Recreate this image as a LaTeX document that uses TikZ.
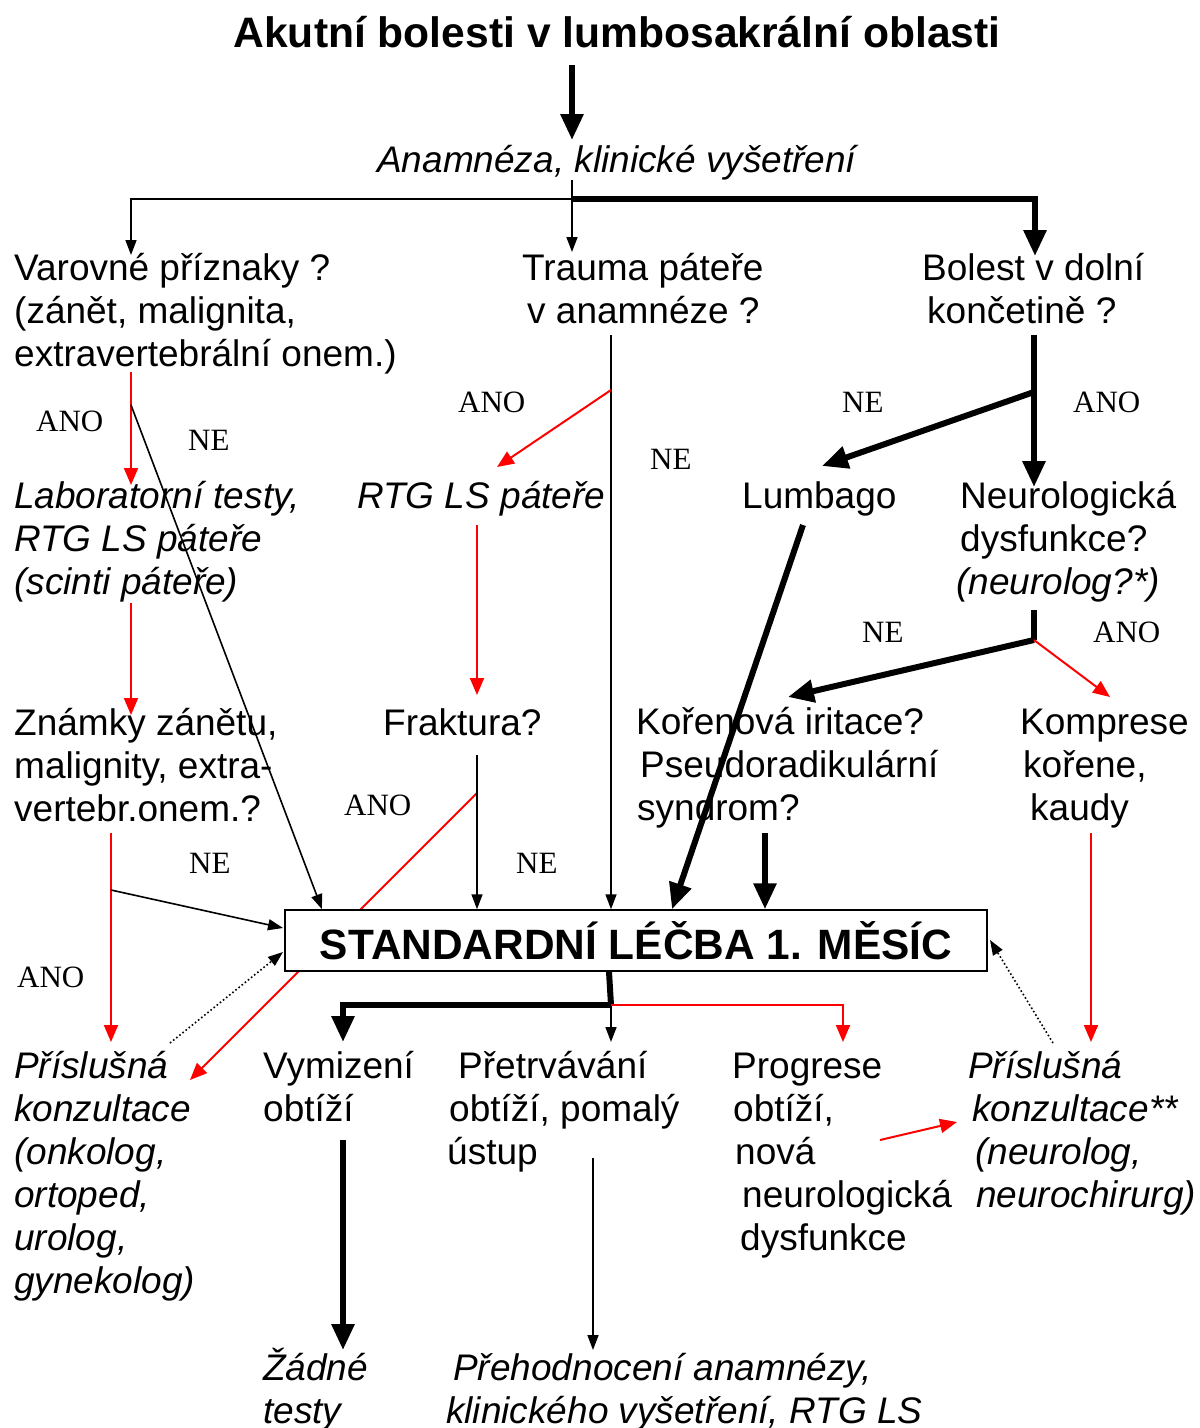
\documentclass[tikz,border=0pt]{standalone}
\usepackage{fontspec}
\setmainfont{Liberation Sans}
\newfontfamily\tmsfont{Liberation Serif}
\usetikzlibrary{arrows.meta}
\tikzset{
	txt/.style={anchor=base west,inner sep=0pt,align=left,font=\fontsize{37}{43}\selectfont},
	txti/.style={txt,font=\itshape\fontsize{37}{43}\selectfont},
	yn/.style={anchor=base west,inner sep=0pt,font=\tmsfont\fontsize{31}{31}\selectfont},
	blk/.style={line width=1.6pt,-{Triangle[length=15pt,width=11pt]}},
	fat/.style={line width=6pt,-{Triangle[length=26pt,width=22pt]}},
	rd/.style={draw=red,line width=2pt,-{Triangle[length=17pt,width=14pt]}},
	dotarr/.style={dash pattern=on 1.6pt off 2.4pt,line width=1.6pt,-{Triangle[length=15pt,width=11pt]}}
}
\begin{document}
\begin{tikzpicture}[x=1pt,y=-1pt]
	\useasboundingbox (0,0) rectangle (1200,1428);
	\node[anchor=base,inner sep=0pt,font=\bfseries\fontsize{42.6}{48}\selectfont] (title) at (617,47) {Akutní bolesti v lumbosakrální oblasti};
	\node[txti] (anam) at (377,172) {Anamnéza, klinické vyšetření};
	\node[txt] (var) at (14,366) {Varovné příznaky ?\\(zánět, malignita,\\extravertebrální onem.)};
	\node[txt] (trauma) at (522,323) {Trauma páteře\\\hspace*{5pt}v anamnéze ?};
	\node[txt] (bolest) at (922,323) {Bolest v dolní\\\hspace*{5pt}končetině ?};
	\node[txti] (lab) at (14,594) {Laboratorní testy,\\RTG LS páteře\\(scinti páteře)};
	\node[txti] (rtg) at (357,508) {RTG LS páteře};
	\node[txt] (lumb) at (742,508) {Lumbago};
	\node[txt] (neuro) at (960,594) {Neurologická\\dysfunkce?\\\hspace*{-4pt}\textit{(neurolog?*)}};
	\node[txt] (znamky) at (14,821) {Známky zánětu,\\malignity, extra-\\vertebr.onem.?};
	\node[txt] (frakt) at (383,735) {Fraktura?};
	\node[txt] (koren) at (636,820) {Kořenová iritace?\\\hspace*{4pt}Pseudoradikulární\\\hspace*{1pt}syndrom?};
	\node[txt] (kompr) at (1020,820) {Komprese\\\hspace*{3pt}kořene,\\\hspace*{10pt}kaudy};
	\node[txti] (konz) at (14,1293) {Příslušná\\konzultace\\(onkolog,\\ortoped,\\urolog,\\gynekolog)};
	\node[txt] (vym) at (263,1121) {Vymizení\\obtíží};
	\node[txt] (pretr) at (447,1164) {\hspace*{11pt}Přetrvávání\\\hspace*{2pt}obtíží, pomalý\\ústup};
	\node[txt] (progr) at (732,1250) {Progrese\\\hspace*{1pt}obtíží,\\\hspace*{3pt}nová\\\hspace*{10pt}neurologická\\\hspace*{8pt}dysfunkce};
	\node[txti] (konz2) at (968,1207) {Příslušná\\\hspace*{4pt}konzultace**\\\hspace*{7pt}(neurolog,\\\hspace*{8pt}neurochirurg)};
	\node[txti] (zadne) at (263,1423) {Žádné\\testy};
	\node[txti] (preh) at (446,1423) {\hspace*{7pt}Přehodnocení anamnézy,\\klinického vyšetření, RTG LS};
	\node[yn] (ano1) at (36,431) {ANO};
	\node[yn] (ne1) at (188,450) {NE};
	\node[yn] (ano2) at (458,412) {ANO};
	\node[yn] (ne2) at (650,469) {NE};
	\node[yn] (ne3) at (842,412) {NE};
	\node[yn] (ano3) at (1073,412) {ANO};
	\node[yn] (ne4) at (862,642) {NE};
	\node[yn] (ano4) at (1093,642) {ANO};
	\node[yn] (ano5) at (344,815) {ANO};
	\node[yn] (ne5) at (189,873) {NE};
	\node[yn] (ne6) at (516,873) {NE};
	\node[yn] (ano6) at (17,987) {ANO};
	\coordinate (fr) at (477,793);
	\coordinate (frend) at (190,1080);
	\draw[rd] (fr) -- (frend);
	\node[draw,line width=1.5pt,fill=white,minimum width=702pt,minimum height=61pt,inner sep=0pt,font=\bfseries\fontsize{42.4}{48}\selectfont] (box) at (636,940.5) {STANDARDNÍ LÉČBA 1. MĚSÍC};
	\coordinate (a0) at (572,65);
	\coordinate (a1) at (572,140);
	\coordinate (sp) at (572,199);
	\coordinate (sv) at (131,199);
	\coordinate (sb) at (1035,199);
	\draw[fat] (a0) -- (a1);
	\draw[blk] (572,180) -- (572,252);
	\draw[blk] (sp) -- (sv) -- (131,255);
	\draw[fat] (sp) -- (sb) -- (1035,256);
	\coordinate (v0) at (131,372);
	\coordinate (vne) at (131,405);
	\draw[rd] (v0) -- (131,485);
	\draw[blk] (vne) -- (box.north west -| 322,0);
	\coordinate (t0) at (611,335);
	\coordinate (tano) at (611,390);
	\draw[blk] (t0) -- (box.north -| t0);
	\draw[rd] (tano) -- (497,467);
	\coordinate (b0) at (1034,335);
	\coordinate (bne) at (1034,392);
	\draw[fat] (b0) -- (1034,487);
	\draw[fat] (bne) -- (822,466);
	\draw[rd] (131,603) -- (131,715);
	\draw[rd] (477,525) -- (477,695);
	\draw[fat] (803,525) -- (box.north -| 672,0);
	\coordinate (n0) at (1034,610);
	\coordinate (n1) at (1034,640);
	\draw[line width=6pt] (n0) -- (n1);
	\draw[fat] (n1) -- (788,697);
	\draw[rd] (n1) -- (1110,697);
	\draw[blk] (477,755) -- (box.north -| fr);
	\draw[fat] (765,833) -- (box.north -| 765,0);
	\coordinate (z0) at (111,833);
	\coordinate (zne) at (111,890);
	\draw[rd] (z0) -- (111,1042);
	\draw[blk] (zne) -- (283,928);
	\draw[rd] (1091,833) -- (1091,1042);
	\draw[dotarr] (170,1043) -- (283,952);
	\draw[dotarr] (1053,1043) -- (990,940);
	\coordinate (d0) at (611,1005);
	\draw[line width=6pt] (box.south -| 609,0) -- (d0);
	\draw[fat] (d0) -- (343,1005) -- (343,1042);
	\draw[blk] (d0) -- (611,1042);
	\draw[rd] (d0) -- (843,1005) -- (843,1042);
	\draw[rd] (880,1140) -- (957,1122);
	\draw[fat] (343,1140) -- (343,1350);
	\draw[blk] (593,1158) -- (593,1350);
\end{tikzpicture}
\end{document}
